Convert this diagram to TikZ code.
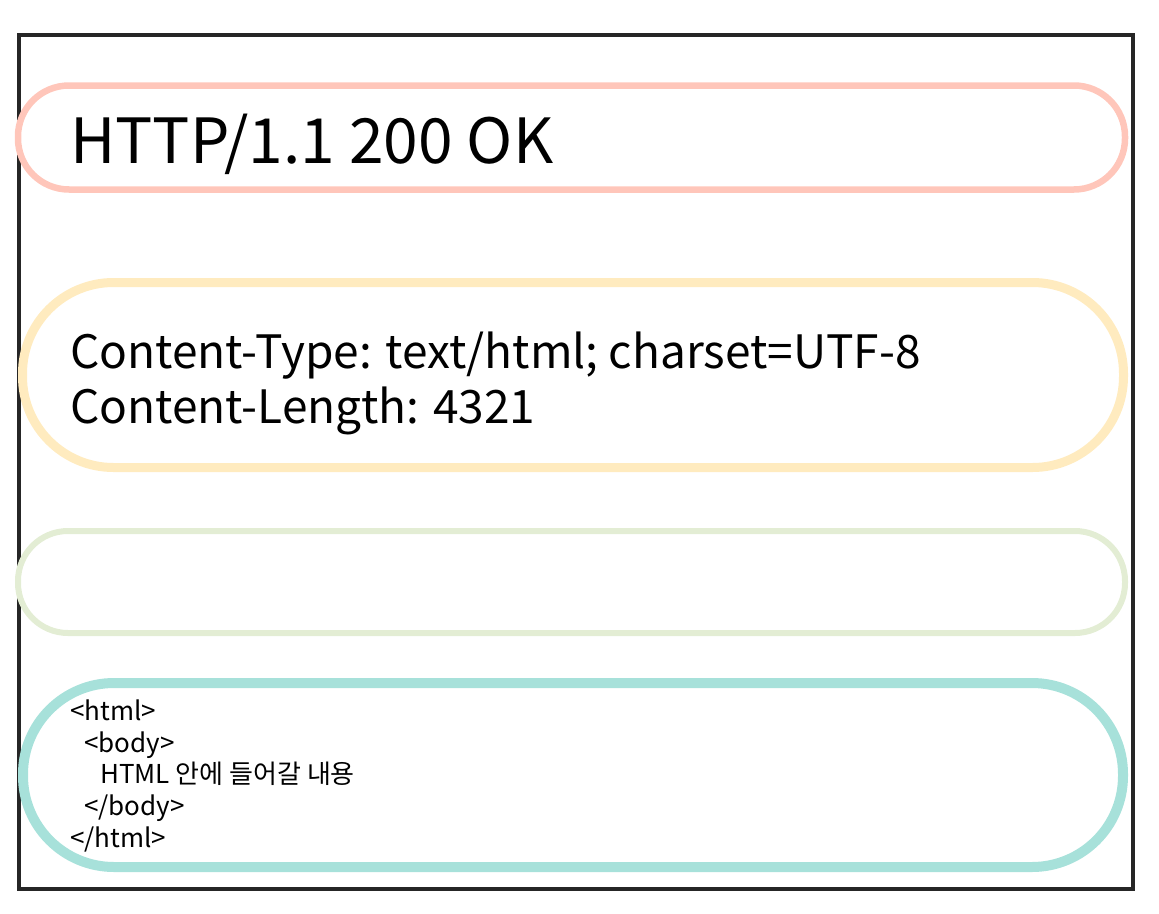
\documentclass[tikz,border=0pt]{standalone}
\usepackage{fontspec}
\setmainfont{Noto Sans CJK KR}
\definecolor{statusred}{HTML}{FFC6BA}
\definecolor{headyellow}{HTML}{FFEBBF}
\definecolor{blankgreen}{HTML}{E3EDD4}
\definecolor{bodyteal}{HTML}{A7E1DA}
\def\big{\fontsize{62.3}{74}\selectfont}
\def\mid{\fontsize{46}{55}\selectfont}
\def\small{\fontsize{26}{31}\selectfont}

\begin{document}
\begin{tikzpicture}[x=1pt,y=-1pt,
    part/.style={draw,rectangle,inner sep=0pt},
    textline/.style={anchor=base west,inner sep=0pt}]
    \useasboundingbox (0,0) rectangle (1159,913);
    % outer frame
    \node[draw=black!85,line width=4pt,minimum width=1114pt,minimum height=854pt,inner sep=0pt] (frame) at (576,462) {};
    % the four parts of the response
    \node[part,draw=statusred,line width=6.5pt,minimum width=1107pt,minimum height=104pt,rounded corners=51pt] (status) at (571.5,137.5) {};
    \node[part,draw=headyellow,line width=9pt,minimum width=1101pt,minimum height=185pt,rounded corners=91pt] (headers) at (573,375) {};
    \node[part,draw=blankgreen,line width=6pt,minimum width=1107pt,minimum height=102pt,rounded corners=50pt] (blank) at (571.5,582) {};
    \node[part,draw=bodyteal,line width=10pt,minimum width=1100pt,minimum height=184pt,rounded corners=91pt] (body) at (573,775) {};
    % texts
    \node[textline,font=\big] (statusline) at (70,163) {HTTP/1.1 200 OK};
    \node[textline,font=\mid] (ctype) at (70,368) {Content-Type: text/html; charset=UTF-8};
    \node[textline,font=\mid] (clength) at (70,423) {Content-Length: 4321};
    \node[textline,font=\small] (htmlopen) at (70,720) {<html>};
    \node[textline,font=\small] (bodyopen) at (84,752) {<body>};
    \node[textline,font=\small] (content) at (100,783) {HTML 안에 들어갈 내용};
    \node[textline,font=\small] (bodyclose) at (84,815) {</body>};
    \node[textline,font=\small] (htmlclose) at (70,847) {</html>};
\end{tikzpicture}
\end{document}
